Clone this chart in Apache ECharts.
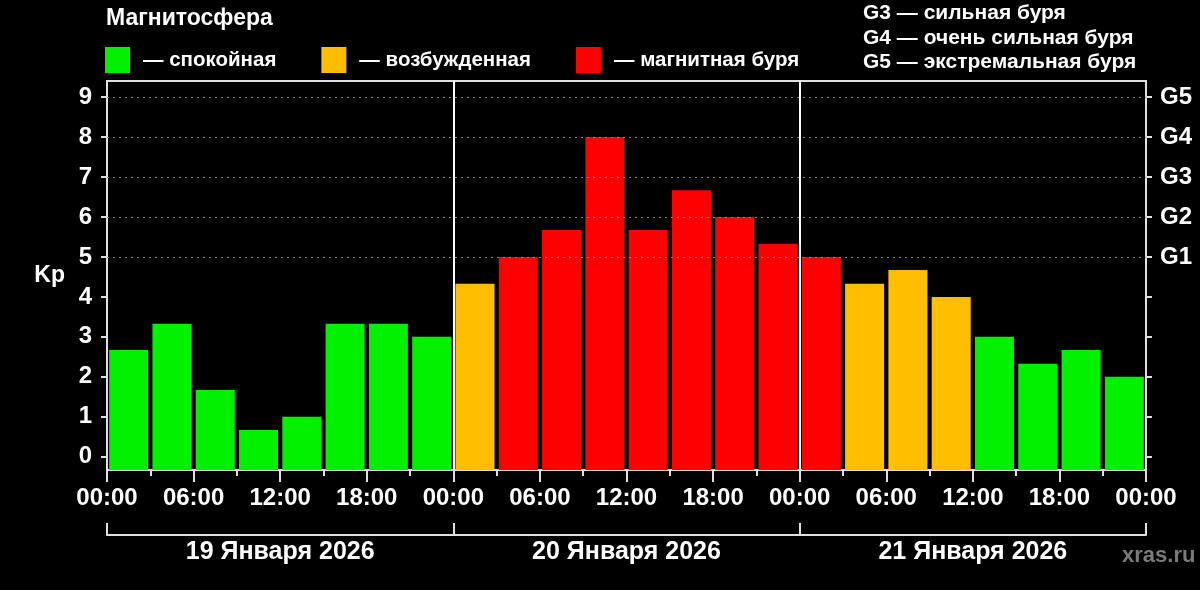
<!DOCTYPE html>
<html><head><meta charset="utf-8">
<script src="https://cdn.jsdelivr.net/npm/echarts@6/dist/echarts.min.js"></script>
<style>html,body{margin:0;padding:0;background:#000;}#c{width:1200px;height:590px;}</style>
</head><body><div id="c"></div>
<script>
// Data
const slotHours = [0,3,6,9,12,15,18,21,24,27,30,33,36,39,42,45,48,51,54,57,60,63,66,69];
const kpValues = [2.67,3.33,1.67,0.67,1.0,3.33,3.33,3.0, 4.33,5.0,5.67,8.0,5.67,6.67,6.0,5.33, 5.0,4.33,4.67,4.0,3.0,2.33,2.67,2.0];
const dayLabels = ['19 Января 2026','20 Января 2026','21 Января 2026'];
const yTicks = [0,1,2,3,4,5,6,7,8,9];
const gLabels = {5:'G1',6:'G2',7:'G3',8:'G4',9:'G5'};
const gridLevels = [5,6,7,8,9];
const dayBoundaries = [24,48];
const classNames = ['— спокойная','— возбужденная','— магнитная буря'];
const classColors = ['#00f000','#ffbf00','#ff0000'];
const gLegend = ['G3 — сильная буря','G4 — очень сильная буря','G5 — экстремальная буря'];

const FONT = "'Liberation Sans', Arial, sans-serif";
const Y_MIN = -0.33, Y_MAX = 9.4;
function cls(v){ return v < 4 ? 0 : (v < 5 ? 1 : 2); }
const series = classNames.map((n, k) => ({
  name: n, type: 'bar', stack: 'kp', barWidth: 39,
  itemStyle: { color: classColors[k] },
  data: slotHours.map((h, i) => cls(kpValues[i]) === k ? [h + 1.5, kpValues[i]] : [h + 1.5, null])
}));
series[0].markLine = {
  silent: true, symbol: 'none', label: { show: false },
  data: gridLevels.map(v => ({ yAxis: v, lineStyle: { color: '#888', type: [2, 4], width: 1 } }))
    .concat(dayBoundaries.map(v => ({ xAxis: v, lineStyle: { color: '#fff', type: 'solid', width: 2 } })))
};

function hh(v){ const h = ((v % 24) + 24) % 24; return (h < 10 ? '0' : '') + h + ':00'; }

const chart = echarts.init(document.getElementById('c'));
chart.setOption({
  backgroundColor: '#000',
  animation: false,
  textStyle: { fontFamily: FONT },
  title: [
    { text: 'Магнитосфера', left: 101, top: 2, textStyle: { color: '#fff', fontSize: 23, fontWeight: 'bold', fontFamily: FONT } },
    { text: gLegend.join('\n'), left: 858, top: -4, textStyle: { color: '#fff', fontSize: 21, fontWeight: 'bold', lineHeight: 24.5, fontFamily: FONT } },
    { text: 'xras.ru', left: 1117, top: 540, textStyle: { color: '#7a7a7a', fontSize: 22, fontWeight: 'bold', fontFamily: FONT } }
  ],
  legend: {
    left: 100, top: 42, itemWidth: 25, itemHeight: 26, itemGap: 45, icon: 'rect',
    data: classNames,
    textStyle: { color: '#fff', fontSize: 20.5, fontWeight: 'bold', fontFamily: FONT, padding: [0,0,0,8] }
  },
  grid: { left: 107, right: 54, top: 81, bottom: 120, show: true, borderColor: '#e0e0e0', borderWidth: 2, containLabel: false },
  xAxis: [
    {
      type: 'value', min: 0, max: 72, interval: 6,
      axisLine: { show: true, onZero: false, lineStyle: { color: '#e0e0e0', width: 2 } },
      axisTick: { show: true, length: 12, lineStyle: { color: '#e0e0e0', width: 2 } },
      minorTick: { show: true, splitNumber: 2, length: 6, lineStyle: { color: '#e0e0e0', width: 2 } },
      splitLine: { show: false },
      axisLabel: { color: '#fff', fontSize: 24, fontWeight: 'bold', margin: 16, fontFamily: FONT, formatter: v => hh(v), showMinLabel: true, showMaxLabel: true }
    },
    {
      type: 'value', min: 0, max: 72, position: 'bottom', offset: 65,
      axisLine: { show: true, onZero: false, lineStyle: { color: '#e0e0e0', width: 2 } },
      axisTick: { show: true, inside: true, length: 12, customValues: [0, 24, 48, 72], lineStyle: { color: '#e0e0e0', width: 2 } },
      splitLine: { show: false },
      axisLabel: { color: '#fff', fontSize: 25, fontWeight: 'bold', margin: 5, fontFamily: FONT, customValues: [12, 36, 60],
        formatter: v => dayLabels[Math.floor(v / 24)] || '' }
    }
  ],
  yAxis: [
    {
      type: 'value', min: Y_MIN, max: Y_MAX, startValue: Y_MIN, position: 'left',
      name: 'Kp', nameLocation: 'middle', nameRotate: 0, nameGap: 42,
      nameTextStyle: { color: '#fff', fontSize: 23, fontWeight: 'bold', fontFamily: FONT },
      axisLine: { show: true, onZero: false, lineStyle: { color: '#e0e0e0', width: 2 } },
      axisTick: { show: true, length: 6, customValues: yTicks, lineStyle: { color: '#e0e0e0', width: 2 } },
      splitLine: { show: false },
      axisLabel: { color: '#fff', fontSize: 24, fontWeight: 'bold', margin: 15, fontFamily: FONT, customValues: yTicks }
    },
    {
      type: 'value', min: Y_MIN, max: Y_MAX, startValue: Y_MIN, position: 'right',
      axisLine: { show: true, onZero: false, lineStyle: { color: '#e0e0e0', width: 2 } },
      axisTick: { show: true, length: 6, customValues: yTicks, lineStyle: { color: '#e0e0e0', width: 2 } },
      splitLine: { show: false },
      axisLabel: { color: '#fff', fontSize: 24, fontWeight: 'bold', margin: 14, fontFamily: FONT, customValues: yTicks,
        formatter: v => gLabels[Math.round(v)] || '' }
    }
  ],
  series: series
});
</script></body></html>
